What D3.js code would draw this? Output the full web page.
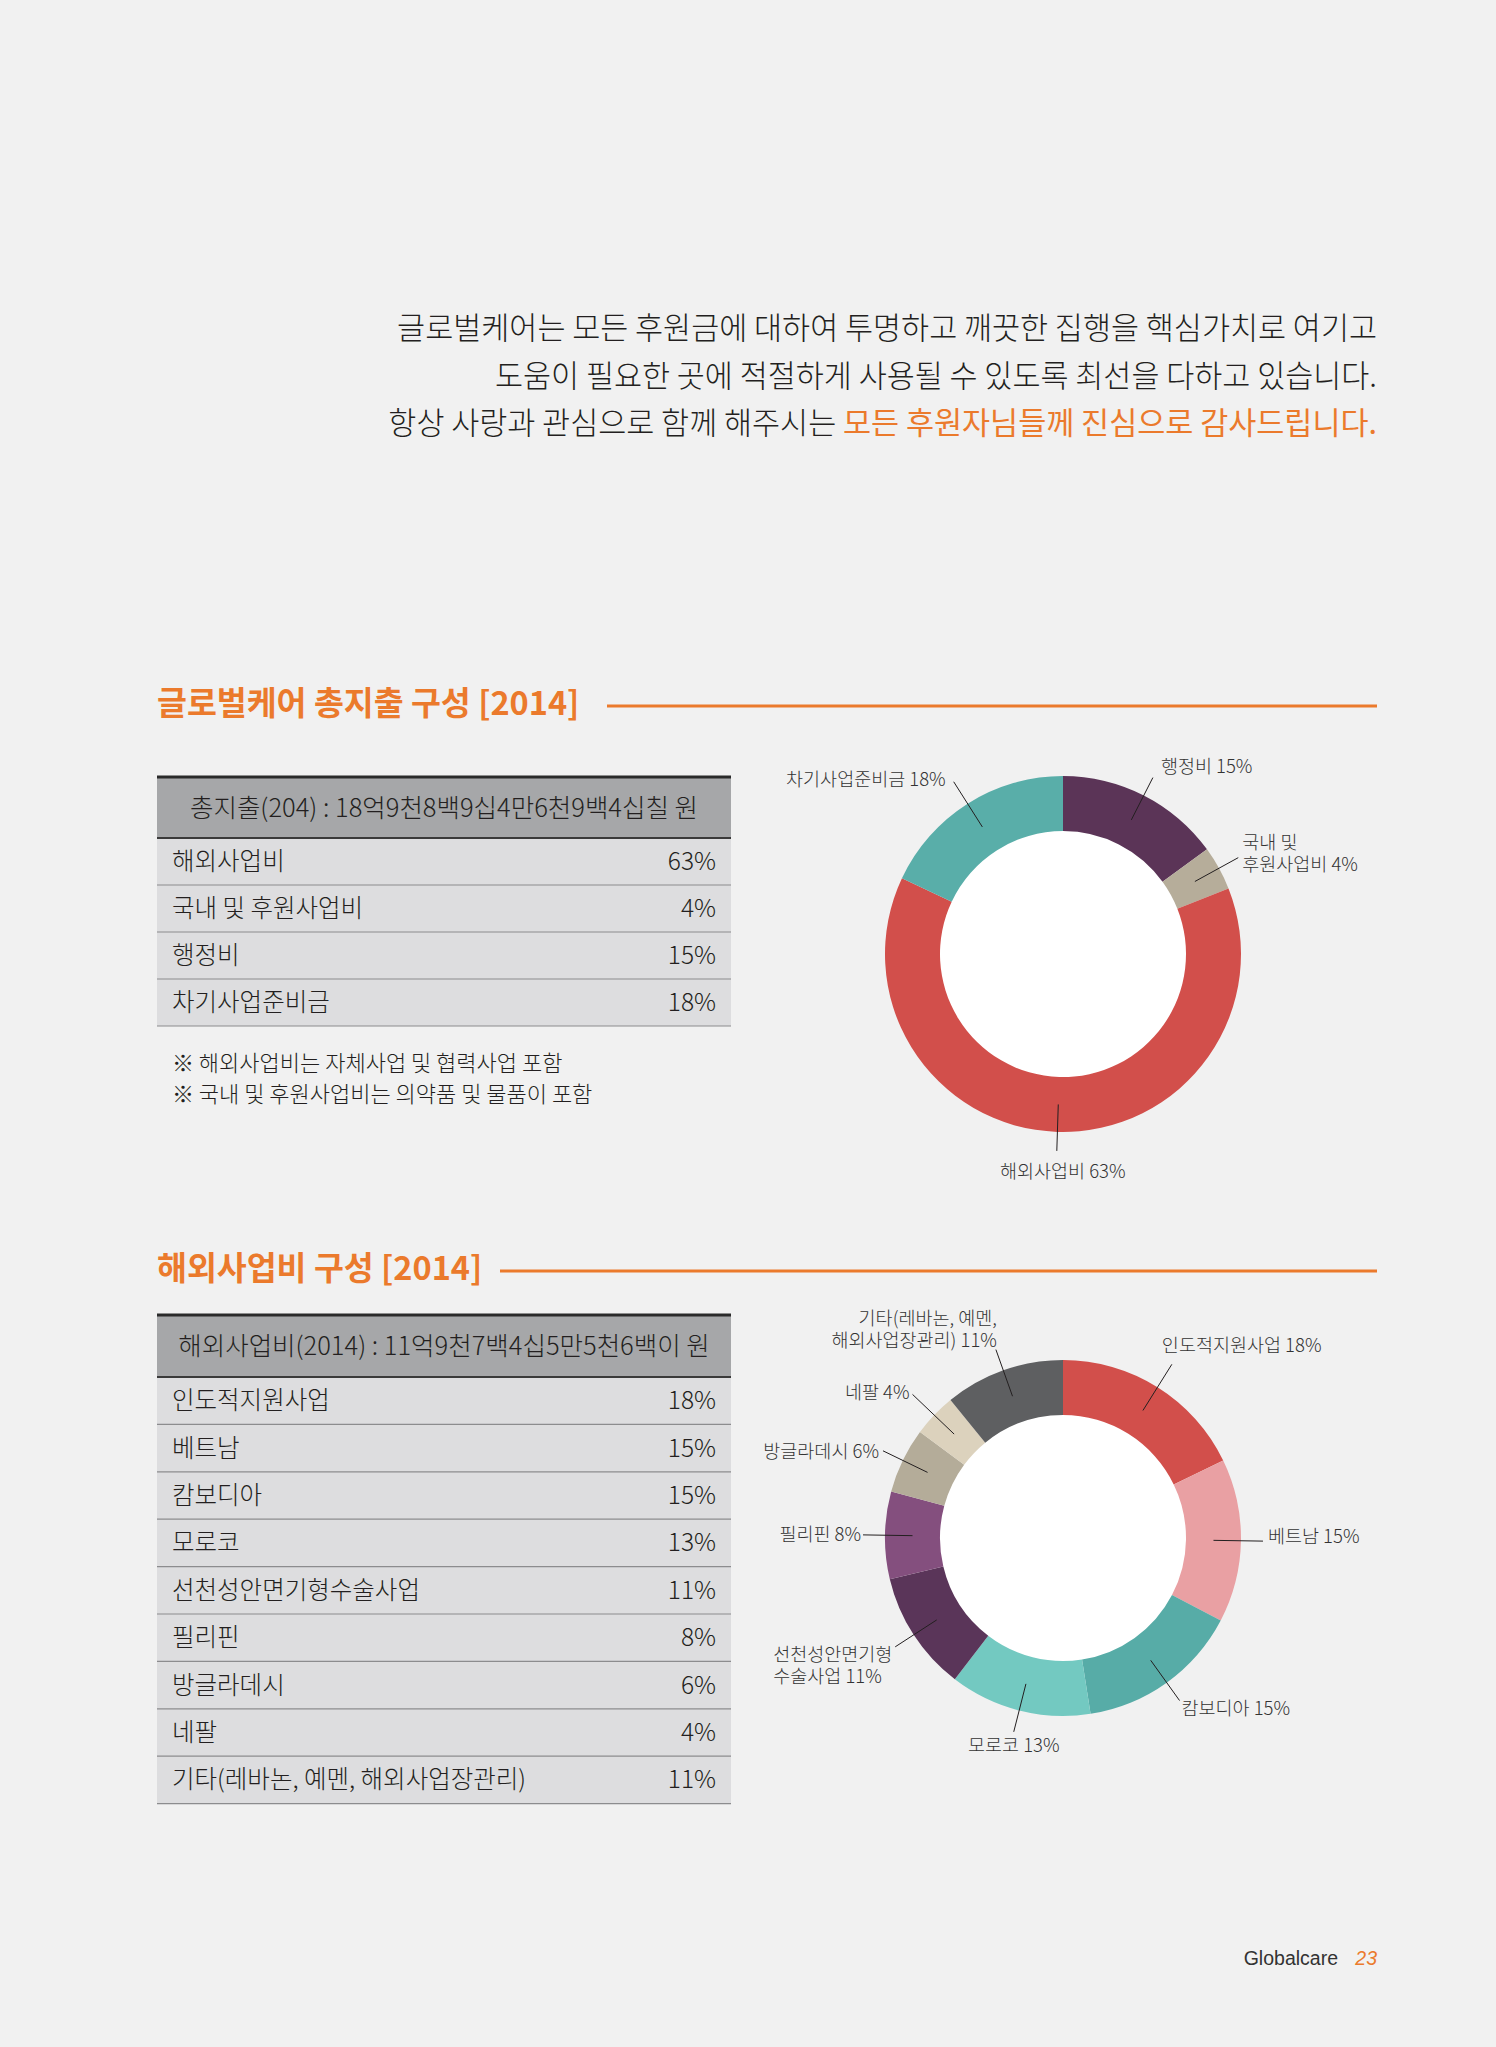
<!DOCTYPE html>
<html><head><meta charset="utf-8">
<script src="https://cdn.jsdelivr.net/npm/d3@7"></script>
<style>
html,body{margin:0;padding:0;background:#f1f1f1;}
svg{display:block;}
text{font-family:"Noto Sans CJK KR","Noto Sans",sans-serif;fill:#231f20;}
</style></head><body>
<svg id="c" width="1496" height="2047"></svg>
<script>
// ---------- DATA ----------
const introLines = [
  ["글로벌케어는 모든 후원금에 대하여 투명하고 깨끗한 집행을 핵심가치로 여기고", ""],
  ["도움이 필요한 곳에 적절하게 사용될 수 있도록 최선을 다하고 있습니다.", ""],
  ["항상 사랑과 관심으로 함께 해주시는 ", "모든 후원자님들께 진심으로 감사드립니다."]
];
const totalTitle = "글로벌케어 총지출 구성 [2014]";
const totalHeader = "총지출(204) : 18억9천8백9십4만6천9백4십칠 원";
const totalCategories = ["해외사업비", "국내 및 후원사업비", "행정비", "차기사업준비금"];
const totalValues = [63, 4, 15, 18];
const totalDonutOrder = [2, 1, 0, 3];
const totalLabels = [["해외사업비 63%"], ["국내 및", "후원사업비 4%"], ["행정비 15%"], ["차기사업준비금 18%"]];
const totalNotes = ["※ 해외사업비는 자체사업 및 협력사업 포함", "※ 국내 및 후원사업비는 의약품 및 물품이 포함"];

const overseasTitle = "해외사업비 구성 [2014]";
const overseasHeader = "해외사업비(2014) : 11억9천7백4십5만5천6백이 원";
const overseasCategories = ["인도적지원사업", "베트남", "캄보디아", "모로코", "선천성안면기형수술사업", "필리핀", "방글라데시", "네팔", "기타(레바논, 예멘, 해외사업장관리)"];
const overseasValues = [18, 15, 15, 13, 11, 8, 6, 4, 11];
const overseasDonutOrder = [0, 1, 2, 3, 4, 5, 6, 7, 8];
const overseasLabels = [["인도적지원사업 18%"], ["베트남 15%"], ["캄보디아 15%"], ["모로코 13%"], ["선천성안면기형", "수술사업 11%"], ["필리핀 8%"], ["방글라데시 6%"], ["네팔 4%"], ["기타(레바논,  예멘,", "해외사업장관리) 11%"]];

const footerName = "Globalcare";
const footerPage = "23";

// ---------- STYLE ----------
const ORANGE = "#eb7a2c";
const totalColors = ["#d24f4b", "#b6ad9a", "#5b3457", "#59aea9"];
const overseasColors = ["#d24f4b", "#e9a0a3", "#57aca7", "#73c9c1", "#5a3559", "#844f7e", "#b4ac99", "#dcd2bd", "#5e5f61"];
// label layout per category: leader end radius, anchor, offsets
const totalLabelLayout = [
  {r2: 197, anchor: "middle", dx: 6, dy: 27},
  {r2: 200, anchor: "start", dx: 4, dy: -9},
  {r2: 198, anchor: "start", dx: 8, dy: -5},
  {r2: 204, anchor: "end", dx: -8, dy: 4}
];
const overseasLabelLayout = [
  {r2: 205, anchor: "start", dx: -10, dy: -12},
  {r2: 200, anchor: "start", dx: 5, dy: 2},
  {r2: 200, anchor: "start", dx: 2, dy: 14},
  {r2: 200, anchor: "middle", dx: 0, dy: 20},
  {r2: 200, anchor: "start", dx: -122, dy: 14},
  {r2: 200, anchor: "end", dx: -2, dy: 6},
  {r2: 200, anchor: "end", dx: -4, dy: 7},
  {r2: 208, anchor: "end", dx: -3, dy: 5},
  {r2: 200, anchor: "end", dx: 1, dy: -25}
];

const svg = d3.select("#c");
svg.append("rect").attr("width", 1496).attr("height", 2047).attr("fill", "#f1f1f1");

// ---------- INTRO ----------
const intro = svg.append("g");
const introY = d3.scalePoint().domain(d3.range(introLines.length)).range([339, 434]);
introLines.forEach((ln, i) => {
  const t = intro.append("text").attr("x", 1377).attr("y", introY(i))
    .attr("text-anchor", "end").attr("font-size", 30.5).attr("font-weight", 300);
  t.append("tspan").text(ln[0]);
  if (ln[1]) t.append("tspan").attr("fill", ORANGE).style("fill", ORANGE).attr("font-weight", 400).text(ln[1]);
});

// ---------- SECTION TITLE ----------
function sectionTitle(title, y, lineStart) {
  const t = svg.append("text").attr("x", 157).attr("y", y).attr("font-size", 32.5)
    .attr("font-weight", 700).style("fill", ORANGE).text(title);
  const w = t.node().getComputedTextLength();
  const x0 = Math.max(lineStart, 157 + w + 16);
  svg.append("line").attr("x1", x0).attr("x2", 1377).attr("y1", y - 9).attr("y2", y - 9)
    .attr("stroke", ORANGE).attr("stroke-width", 3);
}

// ---------- TABLE ----------
function drawTable(top, headerH, rowH, header, cats, values) {
  const x0 = 157, x1 = 731;
  const g = svg.append("g");
  const y = d3.scaleBand().domain(cats).range([top + headerH, top + headerH + rowH * cats.length]);
  g.append("rect").attr("x", x0).attr("y", top).attr("width", x1 - x0).attr("height", headerH).attr("fill", "#a6a7a9");
  g.selectAll(".row").data(cats).enter().append("rect")
    .attr("x", x0).attr("width", x1 - x0).attr("y", d => y(d)).attr("height", y.bandwidth()).attr("fill", "#dddddf");
  g.selectAll(".sep").data(cats).enter().append("line")
    .attr("x1", x0).attr("x2", x1).attr("y1", d => y(d) + y.bandwidth()).attr("y2", d => y(d) + y.bandwidth())
    .attr("stroke", "#8c8c8e").attr("stroke-width", 1.2);
  g.append("line").attr("x1", x0).attr("x2", x1).attr("y1", top).attr("y2", top).attr("stroke", "#2a2a2a").attr("stroke-width", 3);
  g.append("line").attr("x1", x0).attr("x2", x1).attr("y1", top + headerH).attr("y2", top + headerH).attr("stroke", "#3a3a3a").attr("stroke-width", 2);
  g.append("text").attr("x", (x0 + x1) / 2).attr("y", top + headerH / 2 + 9).attr("text-anchor", "middle")
    .attr("font-size", 25.5).attr("font-weight", 300).text(header);
  g.selectAll(".lab").data(cats).enter().append("text")
    .attr("x", x0 + 15).attr("y", d => y(d) + y.bandwidth() / 2 + 8.5).attr("font-size", 24.5).attr("font-weight", 300).text(d => d);
  g.selectAll(".val").data(cats).enter().append("text")
    .attr("x", x1 - 15).attr("text-anchor", "end").attr("y", d => y(d) + y.bandwidth() / 2 + 8.5)
    .attr("font-size", 24.5).attr("font-weight", 300).text((d, i) => values[i] + "%");
}

// ---------- DONUT ----------
function drawDonut(cx, cy, cats, values, order, colors, labels, layout) {
  const g = svg.append("g").attr("transform", `translate(${cx},${cy})`);
  const data = order.map(i => ({i, cat: cats[i], v: values[i]}));
  const pie = d3.pie().sort(null).value(d => d.v);
  const arcs = pie(data);
  const arc = d3.arc().innerRadius(123).outerRadius(178);
  g.append("circle").attr("r", 124).attr("fill", "#ffffff");
  g.selectAll("path").data(arcs).enter().append("path").attr("d", arc).attr("fill", d => colors[d.data.i]);
  arcs.forEach(a => {
    const L = layout[a.data.i];
    const m = (a.startAngle + a.endAngle) / 2;
    const r1 = 150.5;
    const p1 = [r1 * Math.sin(m), -r1 * Math.cos(m)];
    const p2 = [L.r2 * Math.sin(m), -L.r2 * Math.cos(m)];
    g.append("line").attr("x1", p1[0]).attr("y1", p1[1]).attr("x2", p2[0]).attr("y2", p2[1])
      .attr("stroke", "#231f20").attr("stroke-width", 1);
    const t = g.append("text").attr("text-anchor", L.anchor).attr("font-size", 18.5).attr("font-weight", 300)
      .style("fill", "#333");
    labels[a.data.i].forEach((s, k) => {
      t.append("tspan").attr("x", p2[0] + L.dx).attr("y", p2[1] + L.dy + k * 22).text(s);
    });
  });
}

sectionTitle(totalTitle, 715, 607);
drawTable(777, 61, 47, totalHeader, totalCategories, totalValues);
svg.selectAll(".note").data(totalNotes).enter().append("text")
  .attr("x", 172).attr("y", (d, i) => 1071 + i * 31).attr("font-size", 22).attr("font-weight", 300).text(d => d);
drawDonut(1063, 954, totalCategories, totalValues, totalDonutOrder, totalColors, totalLabels, totalLabelLayout);

sectionTitle(overseasTitle, 1280, 500);
drawTable(1315, 62, 47.4, overseasHeader, overseasCategories, overseasValues);
drawDonut(1063, 1538, overseasCategories, overseasValues, overseasDonutOrder, overseasColors, overseasLabels, overseasLabelLayout);

// ---------- FOOTER ----------
svg.append("text").attr("x", 1338).attr("y", 1965).attr("text-anchor", "end")
  .attr("font-family", "'Liberation Sans', Arial, sans-serif").style("font-family", "'Liberation Sans', Arial, sans-serif")
  .attr("font-size", 19.5).style("fill", "#333").text(footerName);
svg.append("text").attr("x", 1377).attr("y", 1965).attr("text-anchor", "end")
  .style("font-family", "'Liberation Sans', Arial, sans-serif").attr("font-style", "italic")
  .attr("font-size", 19.5).style("fill", ORANGE).text(footerPage);
</script>
</body></html>
